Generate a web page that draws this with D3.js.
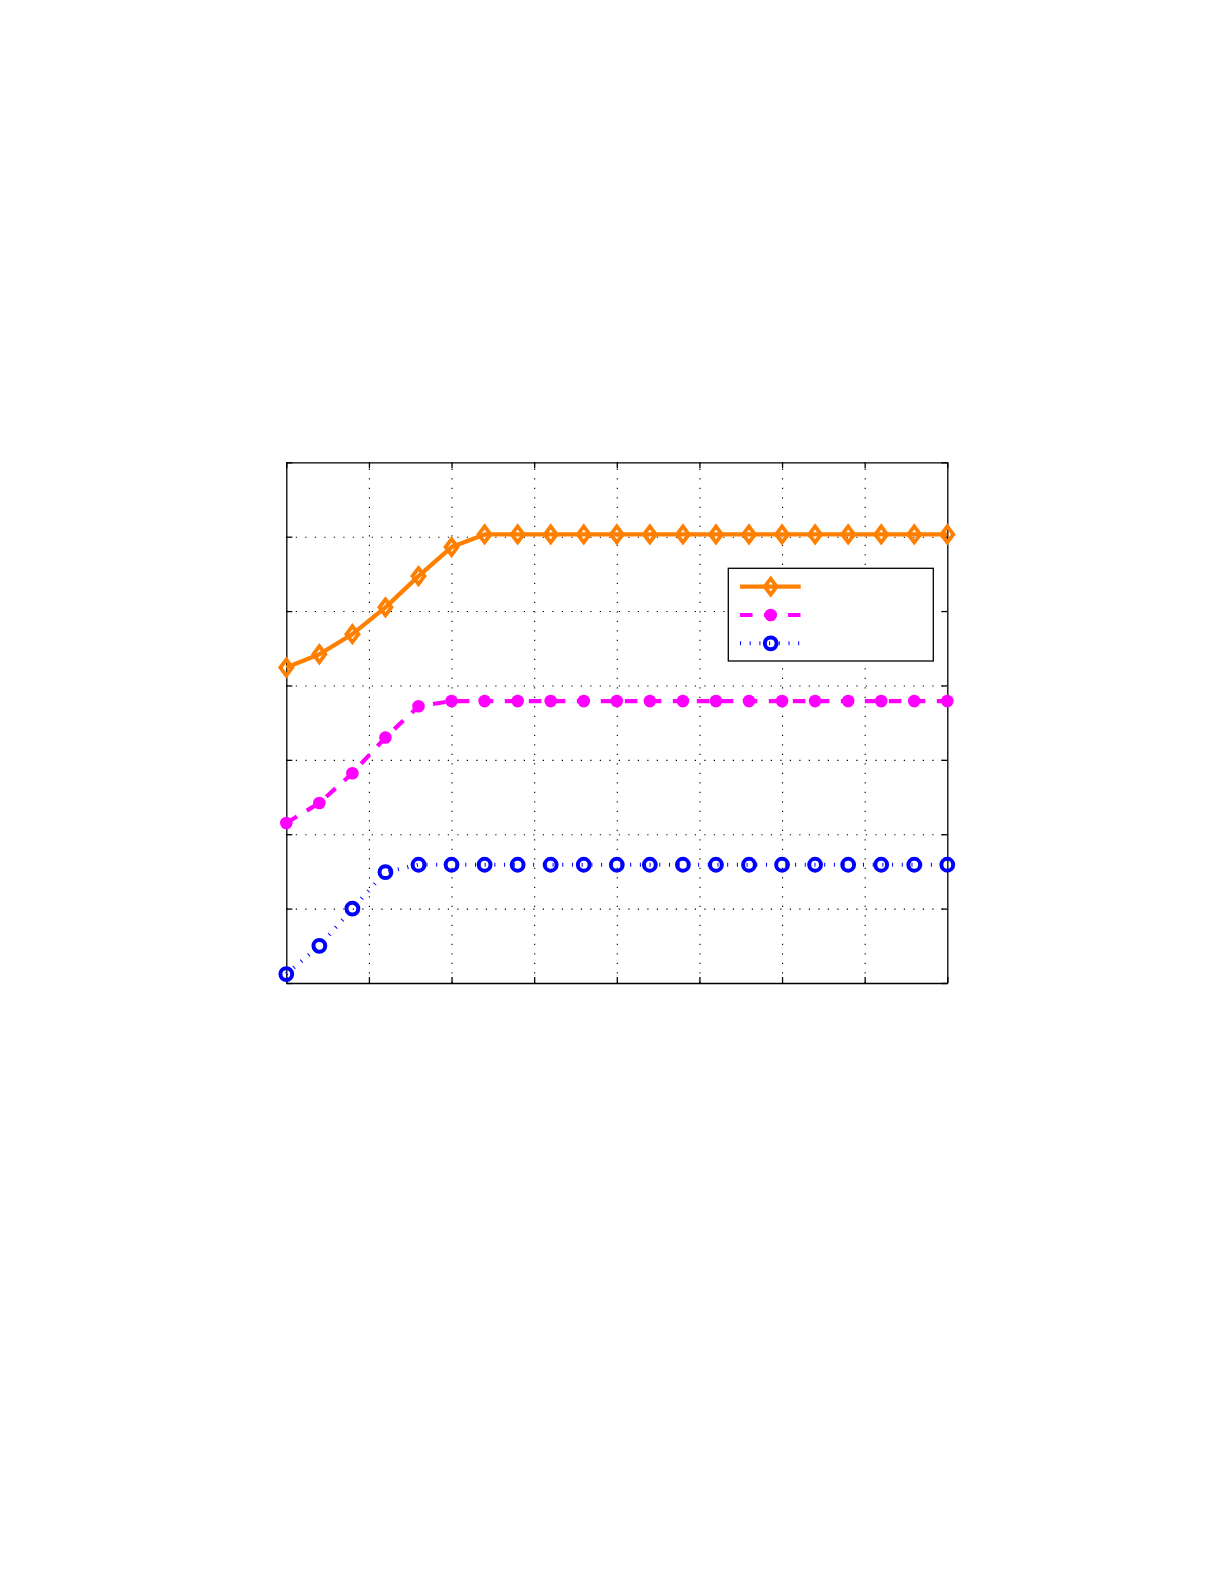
<!DOCTYPE html>
<html>
<head>
<meta charset="utf-8">
<script src="https://cdn.jsdelivr.net/npm/d3@7"></script>
<style>
  html, body { margin: 0; padding: 0; background: #fff; }
  svg { display: block; }
</style>
</head>
<body>
<div id="chart"></div>
<script>
// Data (y in grid units, 7 bands from bottom to top)
const xValues = [0, 2, 4, 6, 8, 10, 12, 14, 16, 18, 20, 22, 24, 26, 28, 30, 32, 34, 36, 38, 40]
const orangeValues = [4.24, 4.42, 4.69, 5.05, 5.47, 5.86, 6.03, 6.03, 6.03, 6.03, 6.03,
                      6.03, 6.03, 6.03, 6.03, 6.03, 6.03, 6.03, 6.03, 6.03, 6.03]
const magentaValues = [2.15, 2.42, 2.82, 3.30, 3.72, 3.79, 3.79, 3.79, 3.79, 3.79, 3.79,
                       3.79, 3.79, 3.79, 3.79, 3.79, 3.79, 3.79, 3.79, 3.79, 3.79]
const blueValues = [0.12, 0.50, 1.00, 1.49, 1.59, 1.59, 1.59, 1.59, 1.59, 1.59, 1.59,
                    1.59, 1.59, 1.59, 1.59, 1.59, 1.59, 1.59, 1.59, 1.59, 1.59]
const xTicks = [0, 5, 10, 15, 20, 25, 30, 35, 40]
const yTicks = [0, 1, 2, 3, 4, 5, 6, 7]

const width = 1225, height = 1585
const margin = {top: 462.3, right: 277.7, bottom: 602, left: 286.3}
const plotWidth = width - margin.left - margin.right
const plotHeight = height - margin.top - margin.bottom

const xScale = d3.scaleLinear().domain([0, 40]).range([0, plotWidth])
const yScale = d3.scaleLinear().domain([0, 7]).range([plotHeight, 0])

const series = [
    {name: 'orange', values: orangeValues, color: '#ff8000', width: 4.3, dash: null, marker: 'diamond'},
    {name: 'magenta', values: magentaValues, color: '#ff00ff', width: 4.2, dash: '12.5,11.5', marker: 'dot'},
    {name: 'blue', values: blueValues, color: '#0000ff', width: 4, dash: '1,8.7', marker: 'circle'},
]

const svg = d3.select('#chart').append('svg')
    .attr('width', width)
    .attr('height', height)

const plot = svg.append('g')
    .attr('transform', `translate(${margin.left}, ${margin.top})`)

// Dotted grid
plot.append('g')
    .attr('class', 'xGrid')
    .attr('transform', `translate(0, ${plotHeight})`)
    .call(d3.axisBottom(xScale).tickValues(xTicks.slice(1, -1)).tickSize(-plotHeight).tickFormat(''))
    .call(g => g.select('.domain').remove())
    .selectAll('line')
    .attr('stroke', '#000').attr('stroke-width', 1.1).attr('stroke-dasharray', '1.2,8.3')
plot.append('g')
    .attr('class', 'yGrid')
    .call(d3.axisLeft(yScale).tickValues(yTicks.slice(1, -1)).tickSize(-plotWidth).tickFormat(''))
    .call(g => g.select('.domain').remove())
    .selectAll('line')
    .attr('stroke', '#000').attr('stroke-width', 1.1).attr('stroke-dasharray', '1.2,8.3')

// Inside ticks on all four sides
const tick = 6
plot.append('g').attr('transform', `translate(0, ${plotHeight})`)
    .call(d3.axisBottom(xScale).tickValues(xTicks).tickSizeInner(-tick).tickSizeOuter(0).tickFormat(''))
plot.append('g')
    .call(d3.axisTop(xScale).tickValues(xTicks).tickSizeInner(-tick).tickSizeOuter(0).tickFormat(''))
plot.append('g')
    .call(d3.axisLeft(yScale).tickValues(yTicks).tickSizeInner(-tick).tickSizeOuter(0).tickFormat(''))
plot.append('g').attr('transform', `translate(${plotWidth}, 0)`)
    .call(d3.axisRight(yScale).tickValues(yTicks).tickSizeInner(-tick).tickSizeOuter(0).tickFormat(''))
plot.selectAll('.domain').attr('stroke', '#000').attr('stroke-width', 1.3)
plot.selectAll('.tick line').filter(function () { return !this.getAttribute('stroke-dasharray') })
    .attr('stroke', '#000').attr('stroke-width', 1.3)

// Marker drawing
const diamondPath = 'M0,-8L6,0L0,8L-6,0Z'
function drawMarker(g, s) {
    if (s.marker === 'diamond') {
        g.append('path').attr('d', diamondPath)
            .attr('fill', 'none').attr('stroke', s.color).attr('stroke-width', 3.8)
    } else if (s.marker === 'dot') {
        g.append('circle').attr('r', 6.3).attr('fill', s.color)
    } else {
        g.append('circle').attr('r', 5.9)
            .attr('fill', 'none').attr('stroke', s.color).attr('stroke-width', 4)
    }
}

const line = d3.line().x((d, i) => xScale(xValues[i])).y(d => yScale(d))

series.forEach(s => {
    const g = plot.append('g').attr('class', 'series ' + s.name)
    g.append('path')
        .datum(s.values)
        .attr('d', line)
        .attr('fill', 'none')
        .attr('stroke', s.color)
        .attr('stroke-width', s.width)
        .attr('stroke-dasharray', s.dash)
        .attr('stroke-linejoin', 'round')
    g.selectAll('.point').data(s.values).enter().append('g')
        .attr('class', 'point')
        .attr('transform', (d, i) => `translate(${xScale(xValues[i])}, ${yScale(d)})`)
        .each(function () { drawMarker(d3.select(this), s) })
})

// Legend (no entry text in the original)
const legend = svg.append('g').attr('transform', 'translate(728.3, 568.3)')
legend.append('rect')
    .attr('width', 205).attr('height', 92.7)
    .attr('fill', '#fff').attr('stroke', '#000').attr('stroke-width', 1.3)
series.forEach((s, i) => {
    const row = legend.append('g').attr('transform', `translate(0, ${18.4 + i * 28.3})`)
    row.append('line')
        .attr('x1', 11.7).attr('x2', 72.4)
        .attr('stroke', s.color).attr('stroke-width', s.width)
        .attr('stroke-dasharray', s.dash)
    const m = row.append('g').attr('transform', 'translate(42.4, 0)')
    drawMarker(m, s)
})
</script>
</body>
</html>
